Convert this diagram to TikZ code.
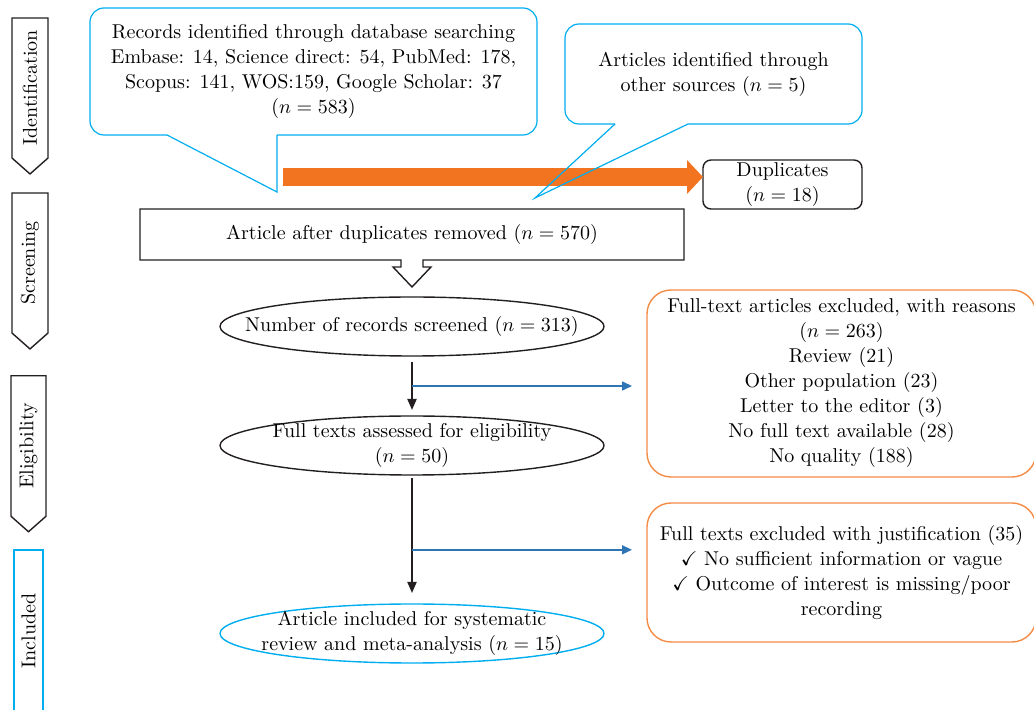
\documentclass[tikz,border=0pt]{standalone}
\usepackage{amssymb}
\definecolor{myblue}{RGB}{0,174,239}
\definecolor{myorange}{RGB}{242,116,33}
\definecolor{mypeach}{RGB}{245,140,70}
\definecolor{myarrow}{RGB}{46,117,182}
\definecolor{mygray}{RGB}{35,31,32}
\usetikzlibrary{positioning,shapes.geometric,shapes.symbols,arrows.meta,calc}

\begin{document}
\begin{tikzpicture}[x=0.5pt,y=-0.5pt,
    every node/.style={font=\fontsize{10}{12.5}\selectfont,align=center,inner sep=0pt,outer sep=0pt},
    stage/.style={signal,signal to=west,signal pointer angle=97,draw=mygray,line width=0.7pt,rotate=90,minimum width=78pt,minimum height=18pt},
    callout/.style={draw=myblue,line width=0.6pt},
    oval/.style={ellipse,draw=mygray,line width=0.7pt,minimum width=192pt,minimum height=29.5pt,inner xsep=-60pt,inner ysep=-10pt},
    exclbox/.style={draw=mypeach,line width=0.7pt,rounded corners=12pt,minimum width=194.5pt},
    flow/.style={draw=mygray,line width=1pt,-{Triangle[width=4.5pt,length=5.5pt]}},
    branch/.style={draw=myarrow,line width=0.8pt,-{Triangle[width=4.5pt,length=5pt]},shorten >=7.5pt}
    ]
    \useasboundingbox (0,0) rectangle (1034,710);

    % stages on the left
    \node (stIdent) [stage] at (30,88) {Identification};
    \node (stScreen) [stage] at (30,263) {Screening};
    \node (stElig) [stage,minimum height=17.5pt] at (28.5,446) {Eligibility};
    \node (stIncl) [draw=myblue,line width=0.6pt,rotate=90,minimum width=81pt,minimum height=14.5pt] at (28.5,631) {Included};

    % identification
    \node (records) [minimum width=223.5pt,minimum height=63.5pt] at (313.5,71.5) {Records identified through database searching\\Embase: 14, Science direct: 54, PubMed: 178,\\Scopus: 141, WOS:159, Google Scholar: 37\\($n=583$)};
    \node (others) [minimum width=148.5pt,minimum height=50pt] at (713.5,74) {Articles identified through\\other sources ($n=5$)};
    \node (dup) [draw=mygray,line width=0.7pt,rounded corners=4pt,minimum width=79.5pt,minimum height=24.5pt] at (782.5,184.5) {Duplicates\\($n=18$)};
    \coordinate (dupfrom) at (283,177);
    \draw[myorange,line width=9pt,-{Triangle[width=16.5pt,length=8pt]}] (dupfrom) -- (dupfrom -| dup.west);

    \draw[callout,rounded corners=7pt] ($(records.south west)+(77,0)$) -- (records.south west) -- (records.north west) -- (records.north east) -- (records.south east) -- ($(records.south west)+(187,0)$);
    \draw[callout] ($(records.south west)+(77,0)$) -- ($(records.south west)+(187,57)$) -- ++(0,-57);
    \draw[callout,rounded corners=7pt] ($(others.south west)+(50,0)$) -- (others.south west) -- (others.north west) -- (others.north east) -- (others.south east) -- ($(others.south west)+(123,0)$);
    \draw[callout] ($(others.south west)+(50,0)$) -- ($(others.south west)+(-30,74)$) -- ($(others.south west)+(123,0)$);

    % screening
    \node (afterdup) [minimum width=272pt,minimum height=25.5pt] at (412,234.5) {Article after duplicates removed ($n=570$)};
    \draw[mygray,line width=0.7pt] (afterdup.south west) -- (afterdup.north west) -- (afterdup.north east) -- (afterdup.south east) -- ($(afterdup.south)+(11,0)$) -- ++(0,7) -- ++(8,0) -- ++(-19,20) -- ++(-19,-20) -- ++(8,0) -- ++(0,-7) -- cycle;

    \node (screened) [oval,below of=afterdup,node distance=46pt] {Number of records screened ($n=313$)};
    \node (fulltext) [oval,below of=screened,node distance=59.5pt] {Full texts assessed for eligibility\\($n=50$)};
    \node (included) [oval,draw=myblue,below of=fulltext,node distance=94pt] {Article included for systematic\\review and meta-analysis ($n=15$)};

    \node (excl1) [exclbox,minimum height=93.5pt] at (841.5,383.5) {Full-text articles excluded, with reasons\\($n=263$)\\Review (21)\\Other population (23)\\Letter to the editor (3)\\No full text available (28)\\No quality (188)};
    \node (excl2) [exclbox,minimum height=69.5pt] at (841.5,572.5) {Full texts excluded with justification (35)\\$\checkmark$ No sufficient information or vague\\$\checkmark$ Outcome of interest is missing/poor\\recording};

    % the edges
    \draw[flow,shorten <=3pt,shorten >=3pt] (screened) -- (fulltext);
    \draw[flow,shorten <=1.5pt,shorten >=5.5pt] (fulltext) -- (included);
    \coordinate (br1) at ($(screened.south)!0.5!(fulltext.north)$);
    \coordinate (br2) at ($(fulltext.south)!0.58!(included.north)$);
    \draw[branch] (br1) -- (br1 -| excl1.west);
    \draw[branch] (br2) -- (br2 -| excl2.west);
\end{tikzpicture}
\end{document}
